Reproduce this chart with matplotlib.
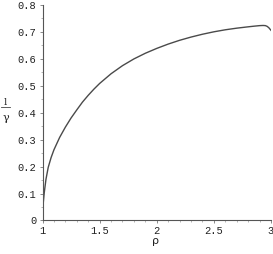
import matplotlib
matplotlib.use("Agg")
import matplotlib.pyplot as plt
from matplotlib.ticker import MultipleLocator

rho = [1.000, 1.001, 1.003, 1.007, 1.015, 1.03, 1.05, 1.075, 1.10, 1.15,
       1.20, 1.25, 1.30, 1.35, 1.40, 1.45, 1.50, 1.60, 1.70, 1.80,
       1.90, 2.00, 2.10, 2.20, 2.30, 2.40, 2.50, 2.60, 2.70, 2.80,
       2.85, 2.90, 2.93, 2.95, 2.965, 2.98, 2.99, 3.00]
ratio = [0.000, 0.025, 0.042, 0.067, 0.102, 0.152, 0.197, 0.233, 0.262, 0.308,
         0.346, 0.380, 0.410, 0.439, 0.464, 0.487, 0.508, 0.544, 0.574, 0.599,
         0.620, 0.638, 0.654, 0.668, 0.680, 0.6905, 0.6995, 0.707, 0.713, 0.718,
         0.7203, 0.7224, 0.723, 0.7225, 0.720, 0.715, 0.710, 0.705]

xticks = [1, 1.5, 2, 2.5, 3]
xticklabels = ["1", "1.5", "2", "2.5", "3"]
yticks = [0, 0.1, 0.2, 0.3, 0.4, 0.5, 0.6, 0.7, 0.8]
yticklabels = ["0", "0.1", "0.2", "0.3", "0.4", "0.5", "0.6", "0.7", "0.8"]

fig = plt.figure(figsize=(2.73, 2.54), dpi=100)
ax = fig.add_axes([0.1557, 0.1319, 0.837, 0.8496])
ax.plot(rho, ratio, color="#4a4a4a", lw=1.0, solid_joinstyle="round")
ax.set_xlim(1, 3)
ax.set_ylim(0, 0.8)
ax.spines["top"].set_visible(False)
ax.spines["right"].set_visible(False)
for s in ("left", "bottom"):
    ax.spines[s].set_color("#555555")
    ax.spines[s].set_linewidth(0.8)
ax.set_xticks(xticks)
ax.set_xticklabels(xticklabels, family="Liberation Mono", fontsize=7.5)
ax.set_yticks(yticks)
ax.set_yticklabels(yticklabels, family="Liberation Mono", fontsize=7.5)
ax.xaxis.set_minor_locator(MultipleLocator(0.1))
ax.yaxis.set_minor_locator(MultipleLocator(0.05))
ax.tick_params(which="major", direction="out", length=2.5, width=0.6, color="#777777", pad=2, labelcolor="#222222")
ax.tick_params(axis="x", which="major", pad=1.5)
ax.tick_params(which="minor", direction="out", length=1.3, width=0.5, color="#999999")

fig.text(0.021, 0.597, "l", ha="center", va="center", family="DejaVu Serif", fontsize=7.5, color="#222222")
fig.add_artist(plt.Line2D([0.004, 0.037], [0.577, 0.577], transform=fig.transFigure, color="#444444", lw=0.6))
fig.text(0.021, 0.537, "\u03b3", ha="center", va="center", family="DejaVu Serif", fontsize=8, color="#222222")
fig.text(0.568, 0.04, "\u03c1", ha="center", va="baseline", family="DejaVu Sans", fontsize=8, color="#222222")

fig.savefig("out.png", dpi=100)
